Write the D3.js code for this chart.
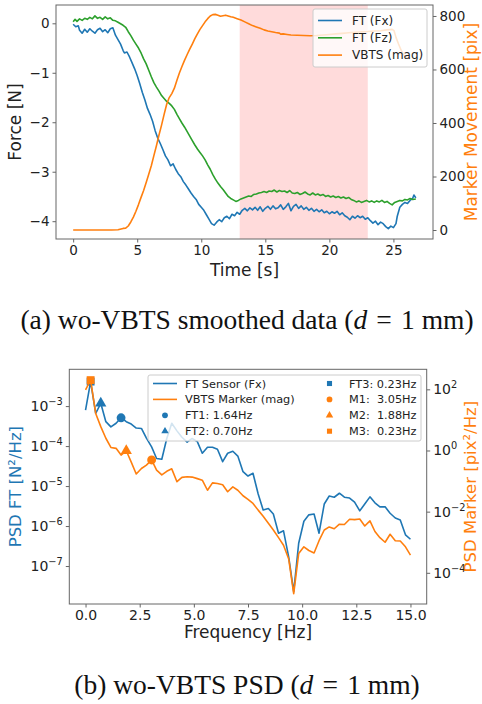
<!DOCTYPE html>
<html>
<head>
<meta charset="utf-8">
<script src="https://cdn.jsdelivr.net/npm/d3@7"></script>
<style>
  body { margin: 0; background: #fff; }
  svg text { font-family: "DejaVu Sans", sans-serif; }
  .cap { font-family: "Liberation Serif", "Times New Roman", serif; white-space: pre; }
  .pre { white-space: pre; }
</style>
</head>
<body>
<div id="chart"></div>
<script>
// ---------- data: (a) smoothed time series ----------
// [time s, force N]
let fxData = [
  [0.0,-0.02],[0.2,-0.07],[0.4,-0.05],[0.5,-0.14],[0.7,-0.2],[0.9,-0.12],[1.1,-0.18],[1.3,-0.11],
  [1.5,-0.16],[1.7,-0.2],[1.9,-0.13],[2.1,-0.1],[2.3,-0.17],[2.5,-0.13],[2.7,-0.19],[2.9,-0.11],
  [3.1,-0.09],[3.3,-0.24],[3.5,-0.33],[3.7,-0.42],[3.9,-0.55],[4.0,-0.6],[4.2,-0.58],[4.4,-0.68],
  [4.6,-0.8],[4.8,-0.92],[5.0,-1.06],[5.2,-1.22],[5.4,-1.4],[5.6,-1.55],[5.8,-1.72],[6.0,-1.84],
  [6.2,-1.98],[6.4,-2.17],[6.6,-2.32],[6.8,-2.43],[7.0,-2.55],[7.2,-2.68],[7.4,-2.76],[7.6,-2.88],
  [7.8,-2.84],[8.0,-2.95],[8.2,-3.04],[8.4,-3.1],[8.6,-3.2],[8.8,-3.27],[9.0,-3.35],[9.2,-3.43],
  [9.4,-3.5],[9.6,-3.56],[9.8,-3.66],[10.0,-3.72],[10.2,-3.78],[10.4,-3.87],[10.6,-3.96],[10.8,-4.05],
  [11.0,-4.08],[11.2,-4.02],[11.4,-3.97],[11.6,-4.01],[11.8,-3.93],[12.0,-3.9],[12.2,-3.95],[12.4,-3.86],
  [12.6,-3.89],[12.8,-3.82],[13.0,-3.86],[13.2,-3.78],[13.4,-3.74],[13.6,-3.79],[13.8,-3.73],[14.0,-3.77],
  [14.2,-3.72],[14.4,-3.78],[14.6,-3.71],[14.8,-3.8],[15.0,-3.74],[15.2,-3.7],[15.4,-3.76],[15.6,-3.69],
  [15.8,-3.75],[16.0,-3.73],[16.2,-3.67],[16.4,-3.76],[16.6,-3.71],[16.8,-3.64],[17.0,-3.79],[17.2,-3.7],
  [17.4,-3.66],[17.6,-3.74],[17.8,-3.69],[18.0,-3.76],[18.2,-3.72],[18.4,-3.78],[18.6,-3.74],[18.8,-3.8],
  [19.0,-3.76],[19.2,-3.81],[19.4,-3.77],[19.6,-3.83],[19.8,-3.8],[20.0,-3.85],[20.2,-3.81],[20.4,-3.84],
  [20.6,-3.8],[20.8,-3.87],[21.0,-3.83],[21.2,-3.89],[21.4,-3.92],[21.6,-3.97],[21.8,-3.9],[22.0,-3.94],
  [22.2,-3.89],[22.4,-3.93],[22.6,-3.9],[22.8,-3.96],[23.0,-3.93],[23.2,-3.99],[23.4,-4.04],[23.6,-4.0],
  [23.8,-4.07],[24.0,-4.02],[24.2,-4.05],[24.4,-4.11],[24.6,-4.15],[24.8,-4.1],[25.0,-4.13],[25.2,-4.05],
  [25.3,-3.9],[25.5,-3.72],[25.7,-3.66],[25.9,-3.62],[26.1,-3.64],[26.3,-3.58],[26.5,-3.54],[26.6,-3.47],
  [26.75,-3.53]
]

let fzData = [
  [0.0,0.03],[0.15,0.08],[0.3,0.04],[0.5,0.09],[0.7,0.06],[0.9,0.1],[1.1,0.08],[1.3,0.12],
  [1.5,0.09],[1.7,0.15],[1.9,0.1],[2.1,0.12],[2.3,0.08],[2.5,0.13],[2.7,0.09],[2.9,0.11],
  [3.1,0.06],[3.3,0.05],[3.5,0.02],[3.7,-0.01],[3.9,-0.04],[4.1,-0.08],[4.3,-0.17],[4.5,-0.25],
  [4.7,-0.34],[4.9,-0.42],[5.1,-0.5],[5.3,-0.6],[5.5,-0.72],[5.7,-0.82],[5.9,-0.95],[6.1,-1.08],
  [6.3,-1.2],[6.5,-1.29],[6.7,-1.37],[6.9,-1.46],[7.1,-1.52],[7.3,-1.58],[7.5,-1.62],[7.7,-1.67],
  [7.9,-1.74],[8.1,-1.84],[8.3,-1.93],[8.5,-2.02],[8.7,-2.1],[8.9,-2.19],[9.1,-2.28],[9.3,-2.37],
  [9.5,-2.46],[9.7,-2.54],[9.9,-2.61],[10.1,-2.68],[10.3,-2.76],[10.5,-2.86],[10.7,-2.95],[10.9,-3.06],
  [11.1,-3.15],[11.3,-3.23],[11.5,-3.3],[11.7,-3.36],[11.9,-3.43],[12.1,-3.5],[12.3,-3.54],[12.5,-3.57],
  [12.7,-3.6],[12.9,-3.58],[13.1,-3.55],[13.3,-3.53],[13.5,-3.51],[13.7,-3.49],[13.9,-3.5],[14.1,-3.46],
  [14.3,-3.45],[14.5,-3.43],[14.7,-3.42],[14.9,-3.4],[15.1,-3.42],[15.3,-3.39],[15.5,-3.4],[15.7,-3.37],
  [15.9,-3.41],[16.1,-3.38],[16.3,-3.4],[16.5,-3.39],[16.7,-3.42],[16.9,-3.38],[17.1,-3.43],[17.3,-3.44],
  [17.5,-3.42],[17.7,-3.46],[17.9,-3.44],[18.1,-3.41],[18.3,-3.45],[18.5,-3.47],[18.7,-3.43],[18.9,-3.47],
  [19.1,-3.45],[19.3,-3.48],[19.5,-3.46],[19.7,-3.5],[19.9,-3.48],[20.1,-3.51],[20.3,-3.49],[20.5,-3.52],
  [20.7,-3.5],[20.9,-3.53],[21.1,-3.51],[21.3,-3.54],[21.5,-3.52],[21.7,-3.56],[21.9,-3.58],[22.1,-3.61],
  [22.3,-3.59],[22.5,-3.62],[22.7,-3.6],[22.9,-3.58],[23.1,-3.61],[23.3,-3.59],[23.5,-3.62],[23.7,-3.59],
  [23.9,-3.61],[24.1,-3.58],[24.3,-3.62],[24.5,-3.6],[24.7,-3.64],[24.9,-3.67],[25.1,-3.62],[25.3,-3.6],
  [25.5,-3.58],[25.7,-3.59],[25.9,-3.56],[26.1,-3.57],[26.3,-3.54],[26.5,-3.56],[26.75,-3.55]
]

// [time s, marker movement pix]
let vbtsData = [
  [0,0],[3.0,0],[3.5,1],[3.9,6],[4.1,7],[4.3,15],[4.5,30],[4.7,48],[4.9,70],[5.1,95],[5.3,122],
  [5.5,148],[5.7,178],[5.9,208],[6.1,240],[6.3,278],[6.5,315],[6.7,355],[6.9,392],[7.1,432],
  [7.3,470],[7.5,495],[7.7,510],[7.9,530],[8.1,560],[8.3,588],[8.5,612],[8.7,635],[8.9,656],
  [9.1,676],[9.3,695],[9.5,715],[9.7,733],[9.9,750],[10.1,764],[10.3,778],[10.5,790],[10.7,800],
  [10.9,805],[11.1,806],[11.3,803],[11.5,799],[11.7,801],[11.9,803],[12.1,800],[12.3,797],[12.5,795],
  [12.8,790],[13.1,785],[13.4,778],[13.7,771],[14.0,764],[14.3,759],[14.6,754],[14.9,748],[15.2,744],
  [15.5,741],[15.8,738],[16.1,736],[16.2,732],[16.4,733],[16.7,731],[17.0,729],[17.5,728],[18.0,727],
  [18.5,726],[19.0,727],[19.5,729],[20.0,731],[20.5,733],[21.0,735],[21.5,737],[22.0,739],[22.5,741],
  [23.0,742],[23.5,744],[24.0,745],[24.5,748],[24.9,750],[25.05,745],[25.2,720],[25.4,695],[25.6,672],
  [25.8,655],[26.0,645],[26.3,640]
]

let contactSpan = [13, 23]
let timeTicks = [0, 5, 10, 15, 20, 25]
let forceTicks = [-4, -3, -2, -1, 0]
let moveTicks = [0, 200, 400, 600, 800]

// ---------- data: (b) PSD ----------
let freqs = [0, 0.234, 0.469, 0.703, 0.938, 1.17, 1.41, 1.64, 1.88, 2.11, 2.34, 2.58, 2.81, 3.05, 3.28, 3.52,
  3.75, 3.98, 4.22, 4.45, 4.69, 4.92, 5.16, 5.39, 5.63, 5.86, 6.09, 6.33, 6.56, 6.8, 7.03, 7.27, 7.5, 7.73,
  7.97, 8.2, 8.44, 8.67, 8.91, 9.14, 9.38, 9.61, 9.84, 10.08, 10.31, 10.55, 10.78, 11.02, 11.25, 11.48,
  11.72, 11.95, 12.19, 12.42, 12.66, 12.89, 13.13, 13.36, 13.59, 13.83, 14.06, 14.3, 14.53, 14.77, 15.0]
// log10 of PSD values
let psdFtExp = [-3.1, -2.39, -3.18, -2.93, -3.39, -3.52, -3.43, -3.29, -3.39, -3.45, -3.55, -3.56, -3.8, -4.02,
  -4.31, -4.33, -3.81, -3.43, -3.62, -3.78, -3.9, -3.81, -3.89, -4.18, -4.03, -4.03, -4.08, -4.39, -4.18, -4.13,
  -4.25, -4.64, -4.75, -4.68, -5.2, -5.6, -5.56, -5.7, -6.18, -6.12, -6.78, -7.64, -6.43, -5.88, -5.72, -5.7,
  -6.18, -5.45, -5.25, -5.28, -5.18, -5.28, -5.3, -5.4, -5.62, -5.45, -5.27, -5.42, -5.52, -5.52, -5.68, -5.8,
  -5.85, -6.22, -6.33]
let psdMarkerExp = [1.98, 2.3, 1.21, 0.78, 0.4, 0.1, 0.07, -0.15, -0.01, -0.38, -0.77, -0.59, -0.48, -0.31, -0.64,
  -0.8, -0.68, -0.6, -1.02, -0.88, -0.86, -0.87, -0.92, -0.97, -1.3, -1.06, -1.08, -1.12, -1.35, -1.19, -1.3,
  -1.48, -1.6, -1.73, -1.95, -2.15, -2.38, -2.6, -2.85, -3.1, -3.55, -4.68, -3.37, -3.15, -3.27, -3.35, -2.95,
  -2.6, -2.5, -2.56, -2.41, -2.42, -2.25, -2.26, -2.24, -2.47, -2.3, -2.65, -2.85, -3.0, -2.74, -2.95, -2.96,
  -3.15, -3.42]

let ftPeaks = [
  {label: 'FT1: 1.64Hz', f: 1.64, v: 5.1e-4, shape: 'circle'},
  {label: 'FT2: 0.70Hz', f: 0.703, v: 1.17e-3, shape: 'triangle'},
  {label: 'FT3: 0.23Hz', f: 0.234, v: 4.1e-3, shape: 'square'}
]
let markerPeaks = [
  {label: 'M1:  3.05Hz', f: 3.05, v: 0.49, shape: 'circle'},
  {label: 'M2:  1.88Hz', f: 1.88, v: 0.98, shape: 'triangle'},
  {label: 'M3:  0.23Hz', f: 0.234, v: 200, shape: 'square'}
]
let freqTicks = [0, 2.5, 5, 7.5, 10, 12.5, 15]
let psdFtTicks = [1e-7, 1e-6, 1e-5, 1e-4, 1e-3]
let psdMarkerTicks = [1e-4, 1e-2, 1, 1e2]

const blue = '#1f77b4', orange = '#ff7f0e', green = '#2ca02c'
const spine = '#666'

d3.selectAll('svg').remove()
let svg = d3.select('#chart').append('svg')
  .attr('width', 482)
  .attr('height', 704)

function styleAxis(g, fs) {
  g.attr('font-family', null).attr('font-size', fs)
  g.select('.domain').remove()
  g.selectAll('.tick line').attr('stroke', spine)
  g.selectAll('.tick text').attr('fill', '#222')
}

function supLabels(g) {
  g.selectAll('.tick text').each(function(d) {
    let e = Math.round(Math.log10(d))
    let t = d3.select(this).text('')
    t.append('tspan').text('10')
    t.append('tspan').attr('dy', -6).attr('font-size', '0.7em').text(e < 0 ? '\u2212' + (-e) : e)
  })
}

const symbols = {circle: d3.symbolCircle, square: d3.symbolSquare, triangle: d3.symbolTriangle}

// ================= (a) =================
let A = {left: 56, right: 433, top: 5, bottom: 239}
let xA = d3.scaleLinear().domain([-1.34, 28.09]).range([A.left, A.right])
let yA = d3.scaleLinear().domain([-4.36, 0.37]).range([A.bottom, A.top])
let yA2 = d3.scaleLinear().domain([-33.6, 841]).range([A.bottom, A.top])

let gA = svg.append('g')

gA.append('rect')
  .attr('x', xA(contactSpan[0]))
  .attr('y', A.top)
  .attr('width', xA(contactSpan[1]) - xA(contactSpan[0]))
  .attr('height', A.bottom - A.top)
  .attr('fill', 'red')
  .attr('opacity', 0.14)

let lineA = d3.line().x(d => xA(d[0])).y(d => yA(d[1]))
let lineA2 = d3.line().x(d => xA(d[0])).y(d => yA2(d[1]))

gA.append('path').attr('d', lineA(fxData))
  .attr('fill', 'none').attr('stroke', blue).attr('stroke-width', 1.6).attr('stroke-linejoin', 'round')
gA.append('path').attr('d', lineA(fzData))
  .attr('fill', 'none').attr('stroke', green).attr('stroke-width', 1.6).attr('stroke-linejoin', 'round')
gA.append('path').attr('d', lineA2(vbtsData))
  .attr('fill', 'none').attr('stroke', orange).attr('stroke-width', 1.6).attr('stroke-linejoin', 'round')

gA.append('rect')
  .attr('x', A.left).attr('y', A.top)
  .attr('width', A.right - A.left).attr('height', A.bottom - A.top)
  .attr('fill', 'none').attr('stroke', spine)

gA.append('g')
  .attr('transform', `translate(0,${A.bottom})`)
  .call(d3.axisBottom(xA).tickValues(timeTicks).tickFormat(d3.format('d')).tickSize(3.5).tickPadding(3))
  .call(g => styleAxis(g, 13.5))
gA.append('g')
  .attr('transform', `translate(${A.left},0)`)
  .call(d3.axisLeft(yA).tickValues(forceTicks).tickFormat(d3.format('d')).tickSize(3.5).tickPadding(3))
  .call(g => styleAxis(g, 13.5))
gA.append('g')
  .attr('transform', `translate(${A.right},0)`)
  .call(d3.axisRight(yA2).tickValues(moveTicks).tickFormat(d3.format('d')).tickSize(3.5).tickPadding(3))
  .call(g => styleAxis(g, 13.5))

gA.append('text')
  .attr('x', (A.left + A.right) / 2).attr('y', 276)
  .attr('text-anchor', 'middle').attr('font-size', 17).attr('fill', '#222')
  .text('Time [s]')
gA.append('text')
  .attr('transform', `translate(21,${(A.top + A.bottom) / 2}) rotate(-90)`)
  .attr('text-anchor', 'middle').attr('font-size', 17).attr('fill', '#222')
  .text('Force [N]')
gA.append('text')
  .attr('transform', `translate(477,${(A.top + A.bottom) / 2}) rotate(-90)`)
  .attr('text-anchor', 'middle').attr('font-size', 17).attr('fill', orange)
  .text('Marker Movement [pix]')

// legend (a)
let legA = gA.append('g').attr('transform', 'translate(313,9)')
legA.append('rect')
  .attr('width', 114).attr('height', 58).attr('rx', 2)
  .attr('fill', 'white').attr('fill-opacity', 0.8).attr('stroke', '#ccc')
let legAItems = [['FT (Fx)', blue], ['FT (Fz)', green], ['VBTS (mag)', orange]]
legAItems.forEach((d, i) => {
  let y = 11.5 + i * 17.3
  legA.append('line').attr('x1', 5).attr('x2', 29).attr('y1', y).attr('y2', y)
    .attr('stroke', d[1]).attr('stroke-width', 1.6)
  legA.append('text').attr('x', 39).attr('y', y + 4.2)
    .attr('font-size', 12).attr('fill', '#222').text(d[0])
})

// caption (a)
let capA = svg.append('text').attr('class', 'cap')
  .attr('x', 247).attr('y', 329).attr('text-anchor', 'middle').attr('font-size', 27.5).attr('fill', '#111')
capA.append('tspan').text('(a) wo-VBTS smoothed data (')
capA.append('tspan').attr('font-style', 'italic').text('d')
capA.append('tspan').text('\u2004=\u20041 mm)')

// ================= (b) =================
let B = {left: 69.3, right: 426.7, top: 369.3, bottom: 604}
let xB = d3.scaleLinear().domain([-0.75, 15.75]).range([B.left, B.right])
let yB = d3.scaleLog().domain([Math.pow(10, -7.95), Math.pow(10, -2.08)]).range([B.bottom, B.top])
let yB2 = d3.scaleLog().domain([Math.pow(10, -5.02), Math.pow(10, 2.655)]).range([B.bottom, B.top])

let gB = svg.append('g')

let psdFt = freqs.map((f, i) => [f, Math.pow(10, psdFtExp[i])])
let psdMarker = freqs.map((f, i) => [f, Math.pow(10, psdMarkerExp[i])])

gB.append('path')
  .attr('d', d3.line().x(d => xB(d[0])).y(d => yB(d[1]))(psdFt))
  .attr('fill', 'none').attr('stroke', blue).attr('stroke-width', 1.6).attr('stroke-linejoin', 'round')

gB.selectAll('path.ftpk')
  .data(ftPeaks)
  .enter().append('path')
  .attr('class', 'ftpk')
  .attr('transform', d => `translate(${xB(d.f)},${yB(d.v)})`)
  .attr('d', d => d3.symbol().type(symbols[d.shape]).size(d.shape === 'triangle' ? 55 : 62)())
  .attr('fill', blue)

gB.append('path')
  .attr('d', d3.line().x(d => xB(d[0])).y(d => yB2(d[1]))(psdMarker))
  .attr('fill', 'none').attr('stroke', orange).attr('stroke-width', 1.6).attr('stroke-linejoin', 'round')

gB.selectAll('path.mpk')
  .data(markerPeaks)
  .enter().append('path')
  .attr('class', 'mpk')
  .attr('transform', d => `translate(${xB(d.f)},${yB2(d.v)})`)
  .attr('d', d => d3.symbol().type(symbols[d.shape]).size(d.shape === 'triangle' ? 55 : 62)())
  .attr('fill', orange)

gB.append('rect')
  .attr('x', B.left).attr('y', B.top)
  .attr('width', B.right - B.left).attr('height', B.bottom - B.top)
  .attr('fill', 'none').attr('stroke', spine)

gB.append('g')
  .attr('transform', `translate(0,${B.bottom})`)
  .call(d3.axisBottom(xB).tickValues(freqTicks).tickFormat(d3.format('.1f')).tickSize(3.5).tickPadding(3))
  .call(g => styleAxis(g, 14))
gB.append('g')
  .attr('transform', `translate(${B.left},0)`)
  .call(d3.axisLeft(yB).tickValues(psdFtTicks).tickSize(3.5).tickPadding(3))
  .call(g => styleAxis(g, 14))
  .call(supLabels)
gB.append('g')
  .attr('transform', `translate(${B.right},0)`)
  .call(d3.axisRight(yB2).tickValues(psdMarkerTicks).tickSize(3.5).tickPadding(3))
  .call(g => styleAxis(g, 14))
  .call(supLabels)

gB.append('text')
  .attr('x', (B.left + B.right) / 2).attr('y', 638)
  .attr('text-anchor', 'middle').attr('font-size', 17).attr('fill', '#222')
  .text('Frequency [Hz]')
gB.append('text')
  .attr('transform', `translate(21,${(B.top + B.bottom) / 2}) rotate(-90)`)
  .attr('text-anchor', 'middle').attr('font-size', 16.5).attr('fill', blue)
  .text('PSD FT [N\u00b2/Hz]')
gB.append('text')
  .attr('transform', `translate(476,${(B.top + B.bottom) / 2}) rotate(-90)`)
  .attr('text-anchor', 'middle').attr('font-size', 16.5).attr('fill', orange)
  .text('PSD Marker [pix\u00b2/Hz]')

// legend (b)
let legB = gB.append('g').attr('transform', 'translate(148,375)')
legB.append('rect')
  .attr('width', 273).attr('height', 66).attr('rx', 2)
  .attr('fill', 'white').attr('fill-opacity', 0.8).attr('stroke', '#ccc')
let legBLines = [['FT Sensor (Fx)', blue], ['VBTS Marker (mag)', orange]]
legBLines.forEach((d, i) => {
  let y = 8.5 + i * 15.9
  legB.append('line').attr('x1', 5).attr('x2', 29).attr('y1', y).attr('y2', y)
    .attr('stroke', d[1]).attr('stroke-width', 1.6)
  legB.append('text').attr('x', 37).attr('y', y + 4)
    .attr('font-size', 11.3).attr('fill', '#222').text(d[0])
})
let legBMarks = [
  [ftPeaks[0], blue], [ftPeaks[1], blue],
  [ftPeaks[2], blue], [markerPeaks[0], orange], [markerPeaks[1], orange], [markerPeaks[2], orange]
]
legBMarks.forEach((d, i) => {
  let col = i < 2 ? 0 : 1
  let row = i < 2 ? i + 2 : i - 2
  let y = 8.5 + row * 15.9
  let mx = col === 0 ? 17 : 181.5
  legB.append('path')
    .attr('transform', `translate(${mx},${y})`)
    .attr('d', d3.symbol().type(symbols[d[0].shape]).size(d[0].shape === 'triangle' ? 24 : 26)())
    .attr('fill', d[1])
  legB.append('text').attr('class', 'pre')
    .attr('x', col === 0 ? 37 : 201).attr('y', y + 4)
    .attr('font-size', 11.3).attr('fill', '#222').text(d[0].label)
})

// caption (b)
let capB = svg.append('text').attr('class', 'cap')
  .attr('x', 247).attr('y', 694).attr('text-anchor', 'middle').attr('font-size', 27.5).attr('fill', '#111')
capB.append('tspan').text('(b) wo-VBTS PSD (')
capB.append('tspan').attr('font-style', 'italic').text('d')
capB.append('tspan').text('\u2004=\u20041 mm)')
</script>
</body>
</html>
